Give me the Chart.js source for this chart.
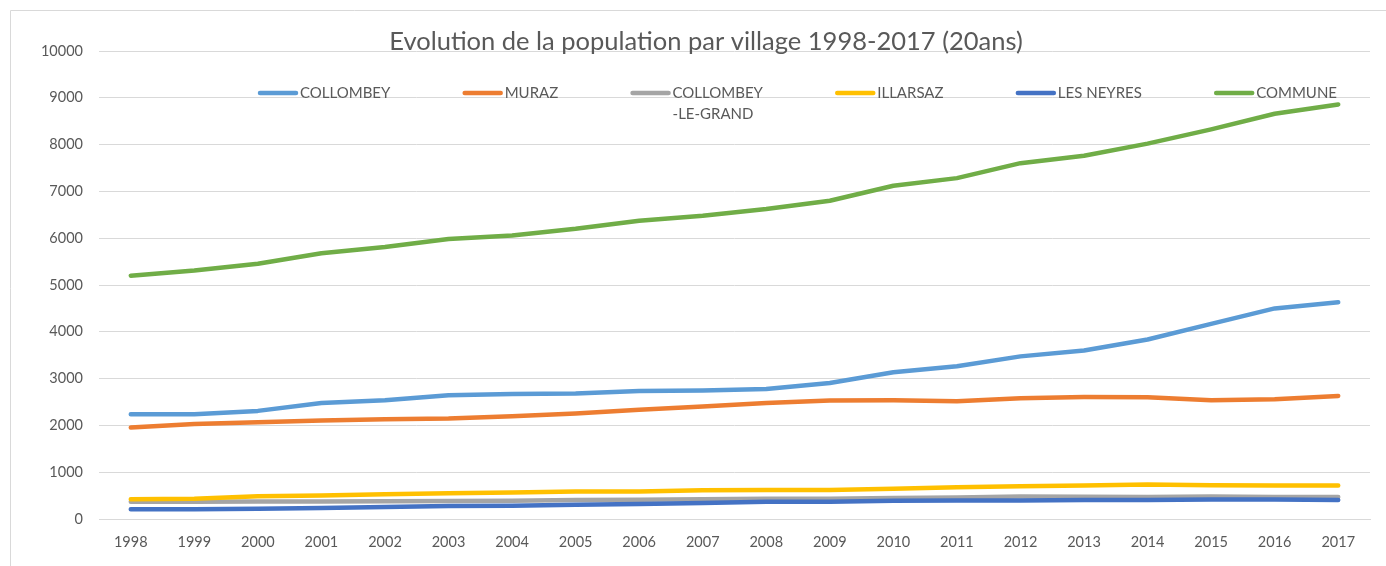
<!DOCTYPE html>
<html>
<head>
<meta charset="utf-8">
<script src="https://cdn.jsdelivr.net/npm/chart.js@4"></script>
<style>
  html, body { margin: 0; padding: 0; background: #fff; }
  #wrap { width: 1386px; height: 566px; }
</style>
</head>
<body>
<div id="wrap"><canvas id="myChart"></canvas></div>
<script>
const years = ['1998','1999','2000','2001','2002','2003','2004','2005','2006','2007',
               '2008','2009','2010','2011','2012','2013','2014','2015','2016','2017'];

const collombey = [2240, 2240, 2310, 2480, 2535, 2645, 2670, 2680, 2735, 2745,
                   2780, 2905, 3135, 3265, 3475, 3600, 3835, 4170, 4500, 4630];
const muraz = [1955, 2030, 2065, 2105, 2130, 2145, 2195, 2255, 2335, 2405,
               2480, 2530, 2535, 2515, 2580, 2605, 2600, 2535, 2560, 2630];
const collombeyLeGrand = [370, 370, 375, 375, 378, 383, 390, 405, 410, 420,
                          433, 433, 447, 460, 480, 475, 468, 482, 468, 468];
const illarsaz = [420, 433, 488, 503, 530, 552, 567, 588, 590, 612,
                  617, 617, 645, 680, 702, 716, 738, 723, 716, 716];
const lesNeyres = [206, 206, 220, 234, 255, 277, 284, 305, 320, 340,
                   369, 369, 390, 397, 397, 404, 404, 418, 418, 404];
const commune = [5200, 5310, 5455, 5680, 5810, 5985, 6060, 6200, 6375, 6482,
                 6622, 6800, 7120, 7284, 7603, 7760, 8020, 8325, 8660, 8858];

const seriesNames = ['COLLOMBEY', 'MURAZ', 'COLLOMBEY-LE-GRAND', 'ILLARSAZ', 'LES NEYRES', 'COMMUNE'];
const seriesData = [collombey, muraz, collombeyLeGrand, illarsaz, lesNeyres, commune];
const seriesColors = ['#5B9BD5', '#ED7D31', '#A5A5A5', '#FFC000', '#4472C4', '#70AD47'];

const titleText = 'Evolution de la population par village 1998-2017 (20ans)';
const textColor = '#595959';
const fontFamily = 'Lato, "Open Sans", sans-serif';

// chart frame, title + legend drawn by hand, Excel style (legend sits over the plot)
const excelBits = {
  id: 'excelBits',
  beforeDraw(chart) {
    const ctx = chart.ctx;
    ctx.save();
    ctx.strokeStyle = '#D9D9D9';
    ctx.lineWidth = 1;
    ctx.beginPath();
    ctx.moveTo(10.5, chart.height);
    ctx.lineTo(10.5, 10.5);
    ctx.lineTo(chart.width, 10.5);
    ctx.stroke();
    ctx.restore();
  },
  afterDraw(chart) {
    const ctx = chart.ctx;
    ctx.save();
    ctx.fillStyle = textColor;
    ctx.font = '25.5px ' + fontFamily;
    ctx.textAlign = 'center';
    ctx.textBaseline = 'middle';
    ctx.fillText(titleText, 706, 42);

    // legend
    ctx.font = '15px ' + fontFamily;
    ctx.textAlign = 'left';
    const markW = 40, markGap = 2;
    const startX = 258, endX = 1337, rowY = 93, lineH = 21;
    const items = chart.data.datasets.map(ds => {
      const lines = ds.label.replace('-LE-', '\n-LE-').split('\n');
      const w = Math.max(...lines.map(l => ctx.measureText(l).width));
      return { lines, w, color: ds.borderColor };
    });
    const used = items.reduce((s, it) => s + markW + markGap + it.w, 0);
    const gap = (endX - startX - used) / (items.length - 1);
    let x = startX;
    items.forEach(it => {
      ctx.strokeStyle = it.color;
      ctx.lineWidth = 4.5;
      ctx.lineCap = 'round';
      ctx.beginPath();
      ctx.moveTo(x + 2, rowY);
      ctx.lineTo(x + markW - 2, rowY);
      ctx.stroke();
      ctx.fillStyle = textColor;
      it.lines.forEach((l, i) => ctx.fillText(l, x + markW + markGap, rowY + i * lineH));
      x += markW + markGap + it.w + gap;
    });
    ctx.restore();
  }
};

const ctx = document.getElementById('myChart').getContext('2d');
new Chart(ctx, {
  type: 'line',
  data: {
    labels: years,
    datasets: seriesData.map((d, i) => ({
      label: seriesNames[i],
      data: d,
      borderColor: seriesColors[i],
      backgroundColor: seriesColors[i],
      borderWidth: 4.5,
      borderCapStyle: 'round',
      borderJoinStyle: 'round',
      pointRadius: 0,
      tension: 0,
      fill: false,
      order: seriesData.length - i
    }))
  },
  options: {
    responsive: true,
    maintainAspectRatio: false,
    animation: false,
    layout: { padding: { top: 51, right: 16, bottom: 0, left: 0 } },
    plugins: {
      legend: { display: false },
      title: { display: false },
      tooltip: { enabled: false }
    },
    scales: {
      x: {
        offset: true,
        grid: { display: false, drawTicks: false },
        border: { display: true, color: '#D9D9D9', width: 1 },
        ticks: {
          color: textColor,
          font: { family: fontFamily, size: 14.5 },
          padding: 15,
          maxRotation: 0,
          autoSkip: false
        },
        afterFit(scale) { scale.height = 47; }
      },
      y: {
        min: 0,
        max: 10000,
        grid: { color: '#D9D9D9', lineWidth: 1, drawTicks: false },
        border: { display: false },
        ticks: {
          stepSize: 1000,
          color: textColor,
          font: { family: fontFamily, size: 14.5 },
          padding: 16,
          callback: v => String(v)
        },
        afterFit(scale) { scale.width = 99; }
      }
    }
  },
  plugins: [excelBits]
});
</script>
</body>
</html>
